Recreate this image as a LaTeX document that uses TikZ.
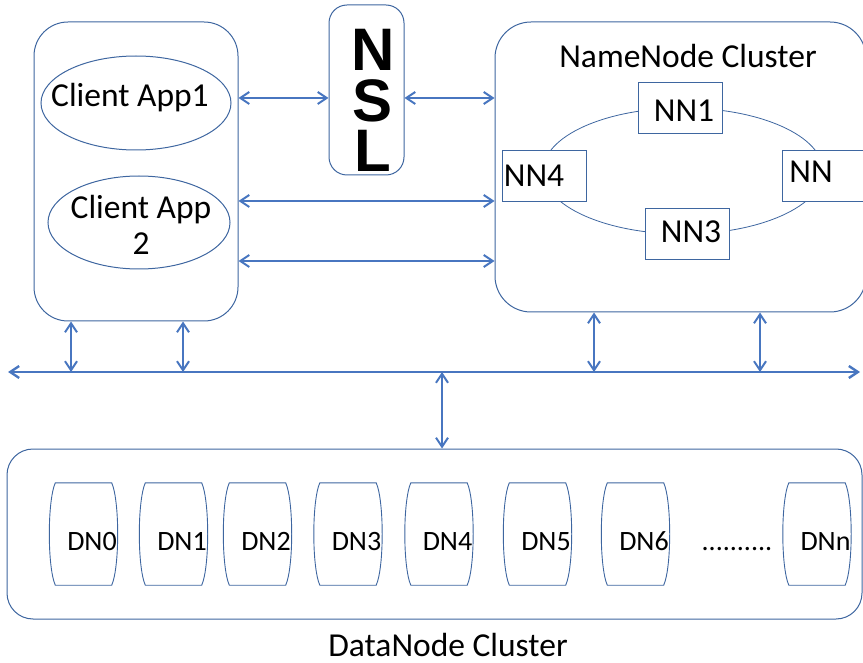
\documentclass[tikz,border=0pt]{standalone}
\usepackage{fontspec}
\setmainfont{Carlito}
\newfontfamily\nslfont{Liberation Sans Bold}
\usetikzlibrary{arrows.meta,shapes.geometric}
\definecolor{boxblue}{RGB}{62,102,160}
\definecolor{linkblue}{RGB}{72,118,192}
\tikzset{
	frame/.style={draw=boxblue, line width=1pt, rounded corners=#1, inner sep=0pt},
	app/.style={ellipse, draw=boxblue, line width=1pt, inner sep=0pt},
	nnbox/.style={rectangle, draw=boxblue, line width=0.9pt, fill=white, inner sep=0pt, minimum width=84pt, minimum height=51pt},
	dnbox/.style={rectangle, inner sep=0pt, minimum width=56pt, minimum height=102pt},
	txt/.style={inner sep=0pt, anchor=base, font=\fontsize{33.5}{36}\selectfont},
	dnlabel/.style={inner sep=0pt, anchor=base, font=\fontsize{28}{30}\selectfont},
	link/.style={draw=linkblue, line width=2pt, {Straight Barb[length=9pt,width=12pt]}-{Straight Barb[length=9pt,width=12pt]}},
}

\begin{document}
\begin{tikzpicture}[x=1pt,y=-1pt]
	\useasboundingbox (0,0) rectangle (863,663);
	% client side
	\node[frame=34pt, minimum width=204pt, minimum height=299pt] (client) at (136,171.5) {};
	\node[app, minimum width=190pt, minimum height=94pt] (app1) at (136,103) {};
	\node[app, minimum width=182pt, minimum height=93pt] (app2) at (139,222.5) {};
	\node[txt] at (130,107) {Client App1};
	% base anchor sits on the last line
	\node[txt, align=center] at (141,255) {Client App\\2};
	% name service layer
	\node[frame=18pt, minimum width=75pt, minimum height=170pt] (nsl) at (366.5,90) {};
	\node[inner sep=0pt, anchor=base, align=center, font=\nslfont\fontsize{60}{50.5}\selectfont] at (373,172) {N\\S\\L};
	% namenode cluster with its ring
	\node[frame=36pt, minimum width=371pt, minimum height=290pt] (nncluster) at (680.5,167) {};
	\node[txt] at (688,68) {NameNode Cluster};
	\draw[boxblue, line width=0.8pt] (683,171) ellipse [x radius=140pt, y radius=63pt];
	\node[nnbox] (nn1) at (680.5,107.5) {};
	\node[nnbox] (nn4) at (544,175.5) {};
	\node[nnbox] (nn3) at (687.5,234) {};
	\node[nnbox] (nn2) at (824,175.5) {};
	\node[txt] at (684,122) {NN1};
	\node[txt] at (534,187) {NN4};
	\node[txt] at (691,243) {NN3};
	\node[txt] at (811,183) {NN};
	% links between client, NSL and namenodes
	\coordinate (r1) at (0,98);
	\coordinate (r2) at (0,201);
	\coordinate (r3) at (0,261);
	\draw[link] (client.east |- r1) -- (nsl.west |- r1);
	\draw[link] (nsl.east |- r1) -- (nncluster.west |- r1);
	\draw[link] (client.east |- r2) -- (nncluster.west |- r2);
	\draw[link] (client.east |- r3) -- (nncluster.west |- r3);
	% bus
	\coordinate (busL) at (8,372);
	\coordinate (busR) at (860,372);
	\draw[link, line width=2.4pt] (busL) -- (busR);
	\coordinate (tap1) at (71,372);
	\coordinate (tap2) at (183,372);
	\coordinate (tap3) at (594,372);
	\coordinate (tap4) at (760,372);
	\coordinate (tap5) at (442,372);
	\draw[link] (tap1 |- client.south) -- (tap1);
	\draw[link] (tap2 |- client.south) -- (tap2);
	\draw[link] (tap3 |- nncluster.south) -- (tap3);
	\draw[link] (tap4 |- nncluster.south) -- (tap4);
	% datanode cluster
	\node[frame=26pt, minimum width=855pt, minimum height=170pt] (dncluster) at (434.5,534) {};
	\draw[link] (tap5) -- (tap5 |- dncluster.north);
	\foreach \cx/\n in {83.5/0,173.5/1,257.5/2,348/3,439/4,537.5/5,635.5/6,817/n} {
		\node[dnbox] (dn\n) at (\cx,534) {};
		\draw[boxblue, line width=0.9pt] (dn\n.north west) -- (dn\n.north east)
			.. controls +(8,18) and +(8,-18) .. (dn\n.south east) -- (dn\n.south west)
			.. controls +(-8,-18) and +(-8,18) .. cycle;
		\node[dnlabel] at (\cx+8.5,550) {DN\n};
	}
	\node[dnlabel] (dots) at (737,550) {..........};
	\node[txt] at (448,656) {DataNode Cluster};
\end{tikzpicture}
\end{document}
